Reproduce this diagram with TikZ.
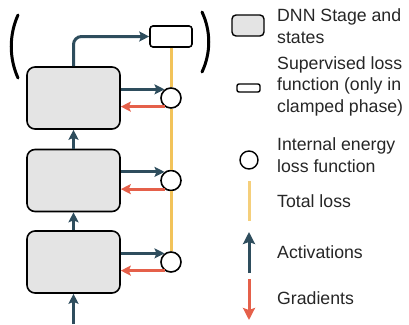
\documentclass[tikz,border=0pt]{standalone}
\usepackage{fontspec}
\setmainfont{Liberation Sans}
\usetikzlibrary{arrows.meta}
\definecolor{act}{HTML}{2E4D5D}
\definecolor{grad}{HTML}{E5604A}
\definecolor{tot}{HTML}{F2C35A}
\definecolor{stagefill}{HTML}{E4E4E4}
\tikzset{
  stagebox/.style={draw=black, line width=1.6pt, fill=stagefill, rounded corners=8pt, minimum width=93pt, minimum height=62pt, inner sep=0pt},
  suplossbox/.style={draw=black, line width=1.6pt, fill=white, rounded corners=3pt, minimum width=42pt, minimum height=21pt, inner sep=0pt},
  energy/.style={draw=black, line width=1.6pt, fill=white, circle, minimum size=20pt, inner sep=0pt},
  actarrow/.style={draw=act, line width=3pt, -{Stealth[length=10pt,width=10pt,inset=2pt]}},
  gradarrow/.style={draw=grad, line width=3pt, -{Stealth[length=10pt,width=10pt,inset=2pt]}},
  totline/.style={draw=tot, line width=3pt},
  paren/.style={draw=black, line width=3pt, line cap=round},
  legtext/.style={anchor=base west, align=left, inner sep=0pt, font=\fontsize{17.7pt}{21.5pt}\selectfont, text=black!85},
}
\begin{document}
\begin{tikzpicture}[x=1pt, y=-1pt]
\useasboundingbox (0,0) rectangle (409,324);
% stages
\node[stagebox] (s1) at (73.5,98) {};
\node[stagebox] (s2) at (73.5,180.5) {};
\node[stagebox] (s3) at (73.5,262) {};
% loss nodes
\node[suplossbox] (sup) at (171,36.5) {};
\node[energy] (c1) at (171,98) {};
\node[energy] (c2) at (171,180.5) {};
\node[energy] (c3) at (171,262) {};
\coordinate (in) at (73.5,324);
% total loss line
\draw[totline] (sup.south) -- (c1.north);
\draw[totline] (c1.south) -- (c2.north);
\draw[totline] (c2.south) -- (c3.north);
% activations between stages
\draw[actarrow] (in) -- (s3.south);
\draw[actarrow] (s3.north) -- (s2.south);
\draw[actarrow] (s2.north) -- (s1.south);
\draw[actarrow, rounded corners=8pt] (s1.north) |- (sup.west);
% stage to energy
\foreach \s/\c in {s1/c1, s2/c2, s3/c3}{
  \draw[actarrow] (\s.east |- \c.127) -- (\c.127);
  \draw[gradarrow] (\c.233) -- (\s.east |- \c.233);
}
% parentheses
\draw[paren] (18,15) .. controls (9,35) and (9,58) .. (18,78);
\draw[paren] (202,12) .. controls (211,31) and (211,53) .. (202,72);
% legend
\node[draw=black, line width=1.4pt, fill=stagefill, rounded corners=4pt, minimum width=32pt, minimum height=21pt, inner sep=0pt] (lg1) at (248,25.5) {};
\node[legtext] (t1) at (277,43) {DNN Stage and\\states};
\node[draw=black, line width=1.4pt, fill=white, rounded corners=2pt, minimum width=23pt, minimum height=8pt, inner sep=0pt] (lg2) at (248.5,88) {};
\node[legtext] (t2) at (277,112) {Supervised loss\\function (only in\\clamped phase)};
\node[draw=black, line width=1.4pt, fill=white, circle, minimum size=18pt, inner sep=0pt] (lg3) at (249,160) {};
\node[legtext] (t3) at (277,172) {Internal energy\\loss function};
\coordinate (y1) at (249,181);
\coordinate (y2) at (249,221);
\draw[draw=tot!80, line width=3pt] (y1) -- (y2);
\node[legtext] (t4) at (277,207) {Total loss};
\coordinate (a1) at (249,273);
\coordinate (a2) at (249,232);
\draw[draw=act, line width=3pt, -{Stealth[length=12pt,width=12pt,inset=2pt]}] (a1) -- (a2);
\node[legtext] (t5) at (277,258) {Activations};
\coordinate (g1) at (249,279);
\coordinate (g2) at (249,320);
\draw[draw=grad, line width=3pt, -{Stealth[length=12pt,width=12pt,inset=2pt]}] (g1) -- (g2);
\node[legtext] (t6) at (277,304) {Gradients};
\end{tikzpicture}
\end{document}
